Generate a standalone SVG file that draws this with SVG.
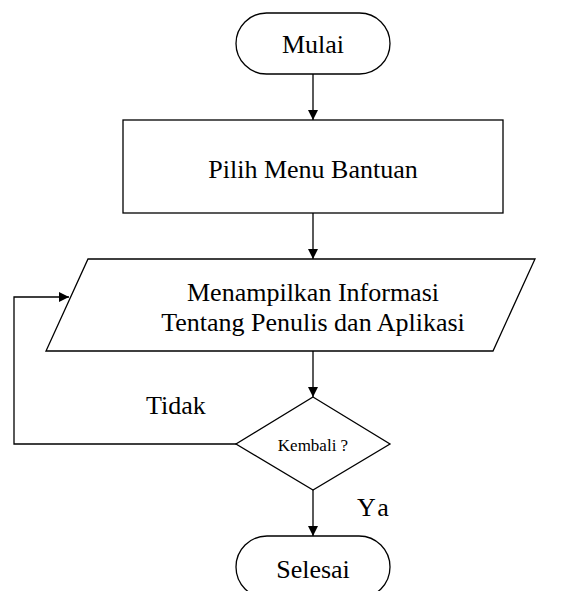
<svg xmlns="http://www.w3.org/2000/svg" width="563" height="591" viewBox="0 0 563 591">
  <style>
    .shape { fill: #ffffff; stroke: #000000; stroke-width: 1.3; }
    .line { fill: none; stroke: #000000; stroke-width: 1.3; }
    .label { font-family: "Liberation Serif", "Times New Roman", serif; font-size: 26px; fill: #000000; text-anchor: middle; }
    .small { font-size: 17px; }
    .free { text-anchor: start; }
  </style>
  <defs>
    <marker id="arrow" viewBox="0 0 10 10" refX="10" refY="5" markerWidth="10" markerHeight="10" markerUnits="userSpaceOnUse" orient="auto">
      <path d="M0,0 L10,5 L0,10 Z" fill="#000000"/>
    </marker>
  </defs>
  <rect width="563" height="591" fill="#ffffff"/>

  <g id="connectors">
    <line class="line" x1="313" y1="74" x2="313" y2="120" marker-end="url(#arrow)"/>
    <line class="line" x1="313" y1="213" x2="313" y2="259" marker-end="url(#arrow)"/>
    <line class="line" x1="313" y1="351" x2="313" y2="397" marker-end="url(#arrow)"/>
    <line class="line" x1="313" y1="490" x2="313" y2="536" marker-end="url(#arrow)"/>
    <polyline class="line" points="236,444 14,444 14,297 69,297" marker-end="url(#arrow)"/>
    <text class="label free" x="146" y="414">Tidak</text>
    <text class="label free" x="357" y="516" letter-spacing="4">Ya</text>
  </g>

  <g id="start">
    <rect class="shape" x="236" y="13" width="154" height="61" rx="30.5" ry="30.5"/>
    <text class="label" x="313" y="53">Mulai</text>
  </g>

  <g id="menu">
    <rect class="shape" x="123" y="120" width="380" height="93"/>
    <text class="label" x="313" y="178">Pilih Menu Bantuan</text>
  </g>

  <g id="info">
    <polygon class="shape" points="88,259 535,259 493,351 46,351"/>
    <text class="label" x="313" y="301">Menampilkan Informasi</text>
    <text class="label" x="313" y="331">Tentang Penulis dan Aplikasi</text>
  </g>

  <g id="decision">
    <polygon class="shape" points="313,397 390,444 313,490 236,444"/>
    <text class="label small" x="313" y="451">Kembali ?</text>
  </g>

  <g id="end">
    <rect class="shape" x="236" y="536" width="154" height="62" rx="31" ry="31"/>
    <text class="label" x="313" y="578">Selesai</text>
  </g>
</svg>
